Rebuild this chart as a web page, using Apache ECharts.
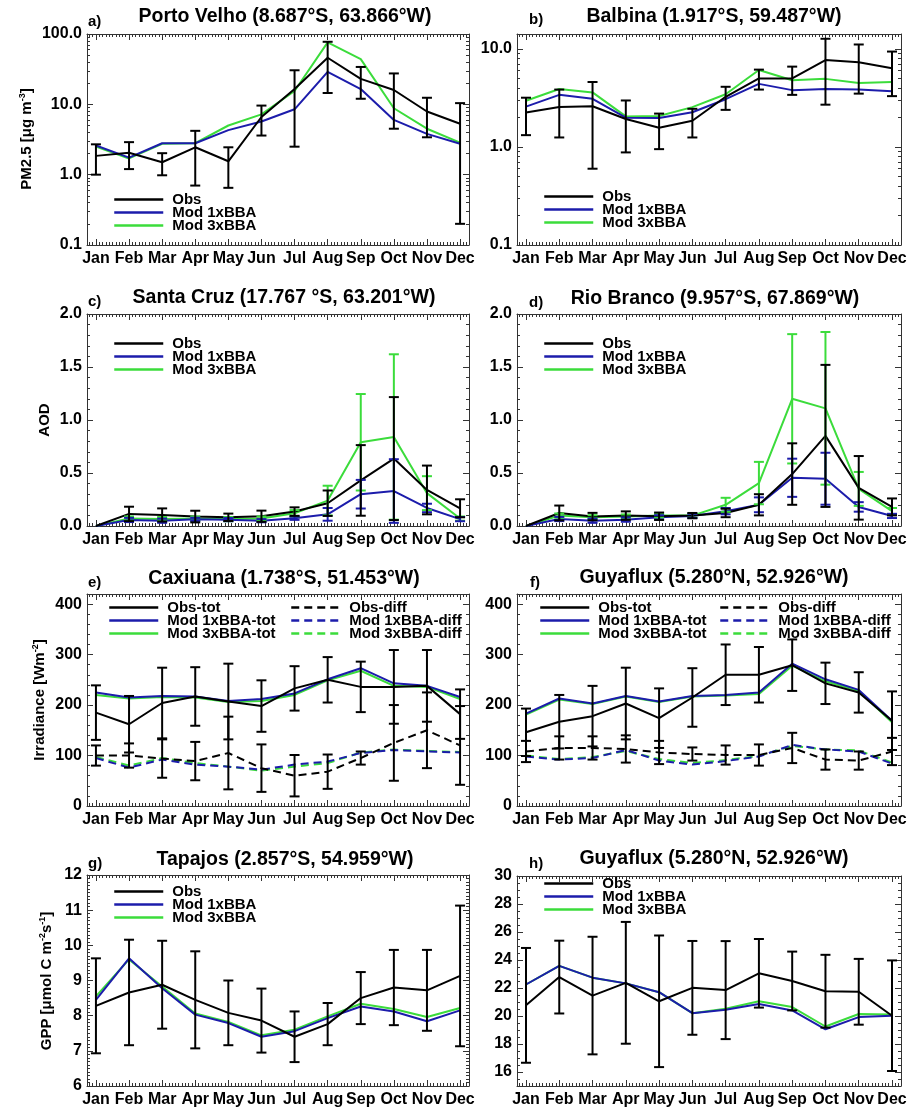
<!DOCTYPE html>
<html>
<head>
<meta charset="utf-8">
<script src="https://cdn.jsdelivr.net/npm/echarts@6/dist/echarts.min.js"></script>
<style>
  html, body { margin: 0; padding: 0; background: #fff; }
  #chart { width: 919px; height: 1108px; }
</style>
</head>
<body>
<div id="chart"></div>
<script>
// ---------- categories and tick labels ----------
const months = ['Jan','Feb','Mar','Apr','May','Jun','Jul','Aug','Sep','Oct','Nov','Dec'];
const pmTicks   = [0.1, 1, 10, 100];
const aodTicks  = [0, 0.5, 1, 1.5, 2];
const irrTicks  = [0, 100, 200, 300, 400];
const gppTapTicks = [6, 7, 8, 9, 10, 11, 12];
const gppGuyTicks = [16, 18, 20, 22, 24, 26, 28, 30];

// ---------- a) Porto Velho, PM2.5 ----------
const pvObs   = [1.85, 2.05, 1.5, 2.45, 1.55, 6.6, 16.5, 46, 23, 16, 7.9, 5.3];
const pvObsSd = [0.85, 0.85, 0.52, 1.75, 0.9, 3.0, 14, 31.5, 11, 11.5, 4.5, 5.1];
const pvMod1  = [2.6, 1.75, 2.8, 2.8, 4.3, 5.7, 8.5, 29, 16.5, 6.0, 3.8, 2.75];
const pvMod3  = [2.5, 1.7, 2.75, 2.8, 5.0, 7.2, 15.5, 76, 44, 8.8, 4.5, 2.85];

// ---------- b) Balbina, PM2.5 ----------
const bbObs   = [2.25, 2.55, 2.6, 1.93, 1.57, 1.85, 3.25, 5.0, 5.0, 7.7, 7.3, 6.35];
const bbObsSd = [0.93, 1.3, 2.0, 1.05, 0.62, 0.6, 0.86, 1.15, 1.6, 5.0, 3.8, 3.05];
const bbMod1  = [2.58, 3.4, 3.1, 1.99, 1.97, 2.26, 3.07, 4.4, 3.8, 3.9, 3.85, 3.7];
const bbMod3  = [2.96, 3.9, 3.6, 2.05, 2.07, 2.55, 3.45, 6.1, 4.8, 4.95, 4.5, 4.6];

// ---------- c) Santa Cruz, AOD ----------
const scObs    = [0, 0.114, 0.104, 0.089, 0.082, 0.092, 0.136, 0.215, 0.43, 0.636, 0.34, 0.167];
const scObsSd  = [0, 0.068, 0.062, 0.055, 0.035, 0.053, 0.04, 0.12, 0.333, 0.58, 0.23, 0.085];
const scMod1   = [0, 0.057, 0.05, 0.063, 0.06, 0.05, 0.073, 0.11, 0.30, 0.33, 0.17, 0.065];
const scMod1Sd = [0, 0.02, 0.02, 0.015, 0.015, 0.015, 0.015, 0.06, 0.135, 0.3, 0.04, 0.02];
const scMod3   = [0, 0.07, 0.065, 0.07, 0.065, 0.07, 0.12, 0.24, 0.79, 0.84, 0.31, 0.07];
const scMod3Sd = [0, 0.02, 0.02, 0.02, 0.02, 0.02, 0.03, 0.14, 0.455, 0.78, 0.16, 0.02];

// ---------- d) Rio Branco, AOD ----------
const rbObs    = [0, 0.123, 0.089, 0.098, 0.092, 0.098, 0.123, 0.2, 0.49, 0.85, 0.36, 0.18];
const rbObsSd  = [0, 0.07, 0.035, 0.04, 0.035, 0.025, 0.04, 0.1, 0.29, 0.67, 0.3, 0.08];
const rbMod1   = [0, 0.066, 0.05, 0.06, 0.082, 0.095, 0.14, 0.2, 0.455, 0.446, 0.18, 0.095];
const rbMod1Sd = [0, 0.02, 0.02, 0.02, 0.02, 0.02, 0.03, 0.07, 0.18, 0.245, 0.045, 0.02];
const rbMod3   = [0, 0.098, 0.082, 0.089, 0.098, 0.098, 0.2, 0.405, 1.2, 1.11, 0.35, 0.14];
const rbMod3Sd = [0, 0.02, 0.02, 0.02, 0.02, 0.02, 0.066, 0.2, 0.61, 0.72, 0.16, 0.03];

// ---------- e) Caxiuana, irradiance (total and diffuse) ----------
const cxObsTot   = [185, 162, 204, 217, 207, 198, 233, 250, 236, 236, 238, 182];
const cxObsTotSd = [54, 56, 70, 58, 75, 51, 44, 45, 50, 73, 71, 49];
const cxMod1Tot  = [225, 215, 218, 217, 208, 212, 223, 251, 273, 243, 238, 216];
const cxMod3Tot  = [220, 213, 216, 215, 206, 208, 220, 249, 268, 238, 236, 212];
const cxObsDif   = [100, 100, 94, 89, 105, 75, 60, 68, 95, 125, 150, 120];
const cxObsDifSd = [20, 24, 38, 38, 72, 47, 41, 34, 13, 75, 75, 78];
const cxMod1Dif  = [95, 76, 92, 82, 78, 72, 82, 88, 105, 111, 108, 106];
const cxMod3Dif  = [97, 80, 95, 85, 78, 70, 78, 85, 106, 112, 109, 107];

// ---------- f) Guyaflux, irradiance (total and diffuse) ----------
const gfObsTot   = [146, 167, 178, 203, 174, 215, 260, 260, 279, 243, 225, 169];
const gfObsTotSd = [47, 53, 60, 71, 59, 58, 60, 55, 51, 41, 40, 58];
const gfMod1Tot  = [183, 213, 203, 218, 207, 218, 220, 225, 282, 251, 230, 169];
const gfMod3Tot  = [181, 211, 202, 217, 206, 217, 219, 222, 278, 247, 228, 166];
const gfObsDif   = [108, 115, 115, 113, 106, 103, 101, 101, 115, 92, 90, 108];
const gfObsDifSd = [21, 23, 23, 27, 23, 13, 19, 21, 30, 20, 18, 27];
const gfMod1Dif  = [98, 92, 95, 111, 90, 82, 89, 98, 121, 112, 108, 84];
const gfMod3Dif  = [100, 93, 97, 109, 93, 85, 91, 99, 119, 112, 110, 86];

// ---------- g) Tapajos, GPP ----------
const tpObs   = [8.28, 8.66, 8.88, 8.45, 8.08, 7.86, 7.4, 7.76, 8.5, 8.8, 8.72, 9.13];
const tpObsSd = [1.35, 1.5, 1.25, 1.38, 0.92, 0.91, 0.72, 0.6, 0.74, 1.07, 1.15, 2.0];
const tpMod1  = [8.45, 9.63, 8.78, 8.03, 7.79, 7.4, 7.56, 7.93, 8.26, 8.12, 7.84, 8.15];
const tpMod3  = [8.55, 9.6, 8.83, 8.06, 7.82, 7.44, 7.6, 7.98, 8.34, 8.19, 7.96, 8.22];

// ---------- h) Guyaflux, GPP ----------
const ghObs   = [20.76, 22.78, 21.46, 22.37, 21.05, 22.01, 21.85, 23.05, 22.5, 21.77, 21.73, 20.02];
const ghObsSd = [4.1, 2.6, 4.2, 4.35, 4.7, 3.35, 3.5, 2.45, 2.1, 2.6, 2.35, 3.95];
const ghMod1  = [22.25, 23.58, 22.74, 22.33, 21.7, 20.2, 20.45, 20.86, 20.4, 19.05, 19.92, 20.02];
const ghMod3  = [22.25, 23.58, 22.74, 22.33, 21.7, 20.2, 20.52, 21.05, 20.64, 19.25, 20.14, 20.1];

// ---------- styling ----------
const FONT = '"Liberation Sans", Arial, Helvetica, sans-serif';
const BLACK = '#000000', BLUE = '#1c1cab', GREEN = '#3bdc3b';
const AX = '#333333';
const DASH = [8, 5];
const X0 = 0.73, X1 = 12.27;

const monthPos = months.map((_, i) => i + 1);
const xMinor = [];
for (let k = Math.ceil(X0 * 10); k <= Math.floor(X1 * 10); k++) if (k % 10) xMinor.push(k / 10);

function linMinors(min, max, step, majors) {
  const out = [];
  for (let k = Math.ceil(min / step - 1e-9); k * step <= max + 1e-9; k++) {
    const v = +(k * step).toFixed(6);
    if (!majors.some(m => Math.abs(m - v) < 1e-9)) out.push(v);
  }
  return out;
}
function logMinors(min, max) {
  const out = [];
  for (let e = -3; e <= 3; e++) for (let m = 2; m <= 9; m++) {
    const v = m * Math.pow(10, e);
    if (v > min * 1.0001 && v < max * 0.9999) out.push(Math.log10(v));
  }
  return out;
}

const labelStyle = { color: '#000', fontFamily: FONT, fontWeight: 'bold', fontSize: 16 };

function xAxesFor(gi) {
  const mk = (pos, ticks, len, line, label) => ({
    type: 'value', gridIndex: gi, min: X0, max: X1, position: pos,
    splitLine: { show: false },
    axisLine: { show: line, onZero: false, lineStyle: { color: AX, width: 1 } },
    axisTick: { show: true, inside: true, length: len, customValues: ticks, lineStyle: { color: AX, width: 1 } },
    axisLabel: label
      ? Object.assign({ show: true, customValues: ticks, margin: 6, formatter: v => months[Math.round(v) - 1] }, labelStyle)
      : { show: false }
  });
  return [mk('bottom', monthPos, 6, true, true), mk('top', monthPos, 6, true, false),
          mk('bottom', xMinor, 3, false, false), mk('top', xMinor, 3, false, false)];
}

function yAxesFor(gi, y) {
  const axes = [];
  const line = { show: true, onZero: false, lineStyle: { color: AX, width: 1 } };
  const tickStyle = { color: AX, width: 1 };
  if (y.log) {
    const isMajor = v => y.ticks.some(t => Math.abs(t - v) / t < 1e-6);
    ['left', 'right'].forEach((pos, i) => axes.push({
      type: 'log', logBase: 10, gridIndex: gi, min: y.min, max: y.max, position: pos,
      splitLine: { show: false }, axisLine: line,
      axisTick: { show: true, inside: true, length: 6, lineStyle: tickStyle },
      axisLabel: i === 0
        ? Object.assign({ show: true, margin: 5, formatter: v => isMajor(v) ? v.toFixed(1) : '' }, labelStyle)
        : { show: false }
    }));
    const minors = logMinors(y.min, y.max);
    ['left', 'right'].forEach(pos => axes.push({
      type: 'value', gridIndex: gi, min: Math.log10(y.min), max: Math.log10(y.max), position: pos,
      splitLine: { show: false }, axisLine: { show: false },
      axisTick: { show: true, inside: true, length: 3, customValues: minors, lineStyle: tickStyle },
      axisLabel: { show: false }
    }));
  } else {
    ['left', 'right'].forEach((pos, i) => axes.push({
      type: 'value', gridIndex: gi, min: y.min, max: y.max, position: pos,
      splitLine: { show: false }, axisLine: line,
      axisTick: { show: true, inside: true, length: 6, customValues: y.ticks, lineStyle: tickStyle },
      axisLabel: i === 0
        ? Object.assign({ show: true, margin: 5, customValues: y.ticks, formatter: y.fmt }, labelStyle)
        : { show: false }
    }));
    const minors = linMinors(y.min, y.max, y.minor, y.ticks);
    ['left', 'right'].forEach(pos => axes.push({
      type: 'value', gridIndex: gi, min: y.min, max: y.max, position: pos,
      splitLine: { show: false }, axisLine: { show: false },
      axisTick: { show: true, inside: true, length: 3, customValues: minors, lineStyle: tickStyle },
      axisLabel: { show: false }
    }));
  }
  return axes;
}

// ---------- panel definitions ----------
const fmt1 = v => v.toFixed(1);
const fmt0 = v => String(Math.round(v));
const stdNames = ['Obs', 'Mod 1xBBA', 'Mod 3xBBA'];
const totNames = ['Obs-tot', 'Mod 1xBBA-tot', 'Mod 3xBBA-tot'];
const difNames = ['Obs-diff', 'Mod 1xBBA-diff', 'Mod 3xBBA-diff'];

function trio(obs, m1, m3) {
  return [
    { name: 'Mod 3xBBA', data: m3, color: GREEN },
    { name: 'Mod 1xBBA', data: m1, color: BLUE },
    { name: 'Obs', data: obs, color: BLACK }
  ];
}

const panels = [
  { letter: 'a)', title: 'Porto Velho (8.687°S, 63.866°W)',
    grid: { left: 87, top: 34, width: 382, height: 211 }, titlePos: [285, 17], letterPos: [88, 22],
    y: { log: true, min: 0.1, max: 100, ticks: pmTicks },
    lines: trio(pvObs, pvMod1, pvMod3),
    errs: [{ data: pvObs, sd: pvObsSd, color: BLACK }],
    legends: [{ left: 113, top: 192, names: stdNames }] },
  { letter: 'b)', title: 'Balbina (1.917°S, 59.487°W)',
    grid: { left: 517, top: 34, width: 384, height: 211 }, titlePos: [714, 17], letterPos: [529, 20],
    y: { log: true, min: 0.1, max: 14.2, ticks: pmTicks },
    lines: trio(bbObs, bbMod1, bbMod3),
    errs: [{ data: bbObs, sd: bbObsSd, color: BLACK }],
    legends: [{ left: 543, top: 189, names: stdNames }] },
  { letter: 'c)', title: 'Santa Cruz (17.767 °S, 63.201°W)',
    grid: { left: 87, top: 314, width: 382, height: 212 }, titlePos: [284, 298], letterPos: [88, 302],
    y: { min: 0, max: 2, ticks: aodTicks, minor: 0.1, fmt: fmt1 },
    lines: trio(scObs, scMod1, scMod3),
    errs: [{ data: scMod3, sd: scMod3Sd, color: GREEN }, { data: scMod1, sd: scMod1Sd, color: BLUE },
           { data: scObs, sd: scObsSd, color: BLACK }],
    legends: [{ left: 113, top: 336, names: stdNames }] },
  { letter: 'd)', title: 'Rio Branco (9.957°S, 67.869°W)',
    grid: { left: 517, top: 314, width: 384, height: 212 }, titlePos: [715, 299], letterPos: [529, 303],
    y: { min: 0, max: 2, ticks: aodTicks, minor: 0.1, fmt: fmt1 },
    lines: trio(rbObs, rbMod1, rbMod3),
    errs: [{ data: rbMod3, sd: rbMod3Sd, color: GREEN }, { data: rbMod1, sd: rbMod1Sd, color: BLUE },
           { data: rbObs, sd: rbObsSd, color: BLACK }],
    legends: [{ left: 543, top: 336, names: stdNames }] },
  { letter: 'e)', title: 'Caxiuana (1.738°S, 51.453°W)',
    grid: { left: 87, top: 594, width: 382, height: 212 }, titlePos: [284, 579], letterPos: [88, 583],
    y: { min: 0, max: 420, ticks: irrTicks, minor: 20, fmt: fmt0 },
    lines: [
      { name: 'Mod 3xBBA-diff', data: cxMod3Dif, color: GREEN, dash: true },
      { name: 'Mod 1xBBA-diff', data: cxMod1Dif, color: BLUE, dash: true },
      { name: 'Obs-diff', data: cxObsDif, color: BLACK, dash: true },
      { name: 'Mod 3xBBA-tot', data: cxMod3Tot, color: GREEN },
      { name: 'Mod 1xBBA-tot', data: cxMod1Tot, color: BLUE },
      { name: 'Obs-tot', data: cxObsTot, color: BLACK }
    ],
    errs: [{ data: cxObsDif, sd: cxObsDifSd, color: BLACK }, { data: cxObsTot, sd: cxObsTotSd, color: BLACK }],
    legends: [{ left: 108, top: 600, names: totNames }, { left: 290, top: 600, names: difNames }] },
  { letter: 'f)', title: 'Guyaflux (5.280°N, 52.926°W)',
    grid: { left: 517, top: 594, width: 384, height: 212 }, titlePos: [714, 578], letterPos: [530, 583],
    y: { min: 0, max: 420, ticks: irrTicks, minor: 20, fmt: fmt0 },
    lines: [
      { name: 'Mod 3xBBA-diff', data: gfMod3Dif, color: GREEN, dash: true },
      { name: 'Mod 1xBBA-diff', data: gfMod1Dif, color: BLUE, dash: true },
      { name: 'Obs-diff', data: gfObsDif, color: BLACK, dash: true },
      { name: 'Mod 3xBBA-tot', data: gfMod3Tot, color: GREEN },
      { name: 'Mod 1xBBA-tot', data: gfMod1Tot, color: BLUE },
      { name: 'Obs-tot', data: gfObsTot, color: BLACK }
    ],
    errs: [{ data: gfObsDif, sd: gfObsDifSd, color: BLACK }, { data: gfObsTot, sd: gfObsTotSd, color: BLACK }],
    legends: [{ left: 539, top: 600, names: totNames }, { left: 719, top: 600, names: difNames }] },
  { letter: 'g)', title: 'Tapajos (2.857°S, 54.959°W)',
    grid: { left: 87, top: 875, width: 382, height: 211 }, titlePos: [285, 860], letterPos: [88, 864],
    y: { min: 6, max: 12, ticks: gppTapTicks, minor: 0.1, fmt: fmt0 },
    lines: trio(tpObs, tpMod1, tpMod3),
    errs: [{ data: tpObs, sd: tpObsSd, color: BLACK }],
    legends: [{ left: 113, top: 884, names: stdNames }] },
  { letter: 'h)', title: 'Guyaflux (5.280°N, 52.926°W)',
    grid: { left: 517, top: 876, width: 384, height: 210 }, titlePos: [714, 859], letterPos: [529, 864],
    y: { min: 15, max: 30, ticks: gppGuyTicks, minor: 0.5, fmt: fmt0 },
    lines: trio(ghObs, ghMod1, ghMod3),
    errs: [{ data: ghObs, sd: ghObsSd, color: BLACK }],
    legends: [{ left: 543, top: 876, names: stdNames }] }
];

// y-axis titles (left column only)
const yNames = [
  { pos: [27, 139], parts: [['PM2.5 [μg m', 'n'], ['-3', 's'], [']', 'n']] },
  { pos: [45, 420], parts: [['AOD', 'n']] },
  { pos: [40, 700], parts: [['Irradiance [Wm', 'n'], ['-2', 's'], [']', 'n']] },
  { pos: [47, 981], parts: [['GPP [μmol C m', 'n'], ['-2', 's'], ['s', 'n'], ['-1', 's'], [']', 'n']] }
];

// ---------- error bars (vertical bar with caps) ----------
function errRender(color) {
  return function (params, api) {
    const x = api.value(0);
    const top = api.coord([x, api.value(2)]);
    const bot = api.coord([x, api.value(1)]);
    const w = 5;
    const st = { stroke: color, lineWidth: 2 };
    return {
      type: 'group',
      children: [
        { type: 'line', shape: { x1: top[0], y1: top[1], x2: bot[0], y2: bot[1] }, style: st },
        { type: 'line', shape: { x1: top[0] - w, y1: top[1], x2: top[0] + w, y2: top[1] }, style: st },
        { type: 'line', shape: { x1: bot[0] - w, y1: bot[1], x2: bot[0] + w, y2: bot[1] }, style: st }
      ]
    };
  };
}

// ---------- assemble option ----------
const option = {
  animation: false,
  backgroundColor: '#ffffff',
  grid: [], xAxis: [], yAxis: [], series: [], legend: [],
  graphic: { elements: [] }
};

panels.forEach((p, gi) => {
  option.grid.push(Object.assign({ show: false }, p.grid));
  option.xAxis.push(...xAxesFor(gi));
  option.yAxis.push(...yAxesFor(gi, p.y));
  const xi = gi * 4, yi = gi * 4;
  const floor = p.y.log ? p.y.min / 10 : -1e9;

  p.lines.forEach(l => option.series.push({
    type: 'line', name: l.name, xAxisIndex: xi, yAxisIndex: yi,
    data: l.data.map((v, i) => [i + 1, v]),
    symbol: 'none', silent: true, clip: true, z: 3,
    lineStyle: { color: l.color, width: 2, type: l.dash ? DASH : 'solid' },
    itemStyle: { color: l.color }
  }));

  p.errs.forEach(e => option.series.push({
    type: 'custom', xAxisIndex: xi, yAxisIndex: yi, silent: true, clip: true, z: 4,
    renderItem: errRender(e.color),
    encode: { x: 0, y: [1, 2] },
    data: e.data.map((v, i) => e.sd[i] ? [i + 1, Math.max(v - e.sd[i], floor), v + e.sd[i]] : null)
                .filter(Boolean)
  }));

  p.legends.forEach(lg => option.legend.push({
    orient: 'vertical', left: lg.left, top: lg.top, padding: 0, itemGap: -2,
    itemWidth: 49, itemHeight: 13, selectedMode: false, data: lg.names,
    itemStyle: { opacity: 0 },
    lineStyle: { width: 2.5 },
    textStyle: { color: '#000', fontFamily: FONT, fontWeight: 'bold', fontSize: 15, lineHeight: 13,
                 padding: [0, 0, 0, 4] }
  }));

  option.graphic.elements.push({
    type: 'text', x: p.titlePos[0], y: p.titlePos[1], silent: true,
    style: { text: p.title, font: 'bold 19.5px ' + FONT, fill: '#000', textAlign: 'center', textVerticalAlign: 'middle' }
  });
  option.graphic.elements.push({
    type: 'text', x: p.letterPos[0], y: p.letterPos[1], silent: true,
    style: { text: p.letter, font: 'bold 15px ' + FONT, fill: '#000', textAlign: 'left', textVerticalAlign: 'middle' }
  });
});

yNames.forEach(yn => option.graphic.elements.push({
  type: 'text', x: yn.pos[0], y: yn.pos[1], rotation: Math.PI / 2, silent: true,
  style: {
    text: yn.parts.map(([t, k]) => '{' + k + '|' + t + '}').join(''),
    textAlign: 'center', textVerticalAlign: 'middle', fill: '#000',
    rich: {
      n: { fontFamily: FONT, fontWeight: 'bold', fontSize: 15, lineHeight: 18, fill: '#000' },
      s: { fontFamily: FONT, fontWeight: 'bold', fontSize: 9, lineHeight: 9, verticalAlign: 'top', fill: '#000' }
    }
  }
}));

const chart = echarts.init(document.getElementById('chart'), null, { renderer: 'canvas' });
chart.setOption(option);
</script>
</body>
</html>
